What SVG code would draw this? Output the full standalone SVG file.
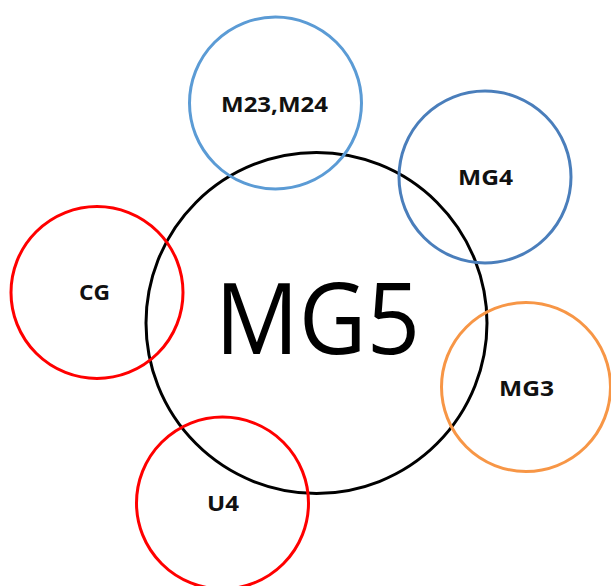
<svg xmlns="http://www.w3.org/2000/svg" width="611" height="586" viewBox="0 0 611 586">
  <style>
    .ring { fill: none; stroke-width: 3; }
    .lbl { font-family: "Open Sans", "Liberation Sans", sans-serif; font-weight: bold; font-size: 22px; fill: #111; text-anchor: middle; }
    .main { font-family: "Open Sans", "Liberation Sans", sans-serif; font-size: 99px; fill: #000; text-anchor: middle; }
  </style>
  <rect width="611" height="586" fill="#fff"/>
  <g id="MG5">
    <circle class="ring" cx="316.5" cy="323" r="170.5" stroke="#000"/>
    <text class="main" x="317.5" y="354" textLength="205" lengthAdjust="spacingAndGlyphs">MG5</text>
  </g>
  <g id="M23_M24">
    <circle class="ring" cx="275.5" cy="103" r="86" stroke="#5B9BD5"/>
    <text class="lbl" x="274.5" y="112" textLength="107" lengthAdjust="spacingAndGlyphs">M23,M24</text>
  </g>
  <g id="MG4">
    <circle class="ring" cx="485" cy="177" r="86" stroke="#4A7EBB"/>
    <text class="lbl" x="485.5" y="185" textLength="55" lengthAdjust="spacingAndGlyphs">MG4</text>
  </g>
  <g id="CG">
    <circle class="ring" cx="97" cy="292.5" r="86" stroke="#FF0000"/>
    <text class="lbl" x="94.5" y="300" textLength="31" lengthAdjust="spacingAndGlyphs">CG</text>
  </g>
  <g id="MG3">
    <circle class="ring" cx="526" cy="387" r="84.5" stroke="#F79646"/>
    <text class="lbl" x="526.5" y="396" textLength="55" lengthAdjust="spacingAndGlyphs">MG3</text>
  </g>
  <g id="U4">
    <circle class="ring" cx="222.5" cy="503" r="86" stroke="#FF0000"/>
    <text class="lbl" x="223" y="511" textLength="32" lengthAdjust="spacingAndGlyphs">U4</text>
  </g>
  <g id="connectors"/>
</svg>
